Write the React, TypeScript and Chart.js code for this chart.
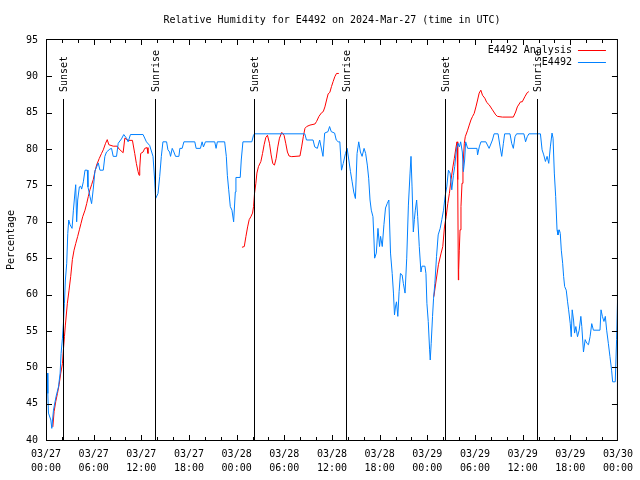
import React, { useEffect, useRef } from "react";
import { Chart, registerables } from "chart.js";

Chart.register(...registerables);

const FONT = "'DejaVu Sans Mono', 'Liberation Mono', monospace";

const chartTitle = "Relative Humidity for E4492 on 2024-Mar-27 (time in UTC)";
const yAxisTitle = "Percentage";
const dayLabels = ["03/27", "03/28", "03/29", "03/30"];
const timeLabels = ["00:00", "06:00", "12:00", "18:00"];
const yMin = 40;
const yMax = 95;
const yStep = 5;
const xMin = 0;
const xMax = 72;
const xMajorStep = 6;
const xMinorStep = 2;

const sunHours = [2.1, 13.72, 26.2, 37.82, 50.22, 61.75];
const sunLabels = ["Sunset", "Sunrise", "Sunset", "Sunrise", "Sunset", "Sunrise"];
const sunLineTop = 86.85;

const analysisLabel = "E4492 Analysis";
const analysisHours = [
  0.86, 1.02, 1.23, 1.44, 1.65, 1.86, 2.07, 2.19, 2.32, 2.44, 2.69, 2.9, 3.11, 3.32, 3.53, 3.74, 3.99, 4.2, 4.41, 4.62,
  4.91, 5.12, 5.33, 5.53, 5.74, 5.95, 6.16, 6.37, 6.7, 6.99, 7.21, 7.5, 7.71, 7.91, 8.46, 8.96, 9.21, 9.71, 9.92, 10.34,
  10.88, 11.17, 11.38, 11.59, 11.72, 11.8, 11.92, 12.22, 12.43, 12.72, 12.84,
  18,
  24.67, 24.96, 25.17, 25.38, 25.58, 25.79, 26.0, 26.13, 26.25, 26.42, 26.55, 26.75, 27.05, 27.26, 27.46, 27.67, 27.88,
  28.13, 28.34, 28.55, 28.76, 28.97, 29.18, 29.39, 29.68, 29.97, 30.18, 30.39, 30.6, 30.93, 31.97, 32.18, 32.39, 32.6,
  32.81, 33.23, 33.85, 34.06, 34.36, 34.69, 34.9, 35.11, 35.32, 35.52, 35.73, 35.94, 36.15, 36.36, 36.57, 36.86,
  42,
  48.82, 49.12, 49.4, 49.74, 49.95, 50.16, 50.37, 50.58, 50.78, 50.99, 51.2, 51.4, 51.62, 51.74, 51.83, 51.91, 51.95,
  52.03, 52.12, 52.24, 52.37, 52.49, 52.66, 52.78, 53.08, 53.28, 53.49, 53.7, 53.9, 54.12, 54.33, 54.53, 54.74, 54.95,
  55.24, 55.49, 55.78, 56.2, 56.62, 56.83, 57.45, 58.83, 59.12, 59.33, 59.74, 59.95, 60.28, 60.58, 60.78,
];
const analysisValues = [
  41.8, 43.9, 45.3, 46.4, 47.6, 49.2, 50.5, 52.4, 54.2, 55.8, 58.8, 60.6, 62.5, 64.8, 66.1, 67, 68, 68.9, 69.8, 70.7,
  71.6, 72.5, 73.5, 74.4, 75.1, 75.8, 76.9, 77.8, 78.7, 79.4, 79.9, 80.8, 81.3, 80.6, 80.4, 80.4, 80, 79.5, 81.5, 81.2,
  81.2, 79.4, 78.0, 76.9, 76.4, 77.4, 79.4, 79.6, 80.1, 80.2, 79.4,
  null,
  66.5, 66.6, 68, 69.3, 70.3, 70.7, 71.2, 72.1, 73.9, 75.3, 76.7, 77.6, 78.3, 79.4, 80.6, 81.6, 81.9,
  80.8, 79.2, 78.0, 77.8, 78.7, 80.3, 81.5, 82.3, 81.9, 80.8, 79.6, 79.05, 78.96, 79.05, 80.3, 81.7, 82.85,
  83.1, 83.3, 83.45, 83.8, 84.5, 85, 85.15, 85.8, 86.75, 87.6, 87.8, 88.6, 89.3, 89.96, 90.4, 90.4,
  null,
  59.7, 62, 64.1, 65.7, 66.6, 69.3, 70.7, 72.5, 73.9, 75.8, 77.4, 78.7, 80.3, 81, 75.8, 62, 63.4,
  66.1, 68.9, 72.1, 75.3, 77.6, 80.8, 81.7, 82.6, 83.3, 84, 84.5, 84.9, 85.8, 86.75, 87.7, 88.1, 87.4,
  87, 86.4, 86.1, 85.4, 84.7, 84.5, 84.4, 84.4, 85.1, 85.8, 86.5, 86.5, 87.2, 87.76, 87.9,
];

const stationLabel = "E4492";
const stationHours = [
  0.19, 0.23, 0.31, 0.61, 0.73, 0.94, 1.27, 1.57, 1.78, 1.9, 2.07, 2.19, 2.32, 2.44, 2.61, 2.74, 2.86, 3.03, 3.28, 3.45,
  3.65, 3.74, 3.86, 3.99, 4.2, 4.37, 4.49, 4.7, 4.91, 5.2, 5.28, 5.53, 5.74, 5.95, 6.16, 6.58, 6.79, 7.21, 7.41, 7.62,
  8.04, 8.25, 8.46, 8.88, 9.09, 9.5, 9.79, 10.13, 10.34, 10.63, 12.22, 12.64, 13.05, 13.47, 13.68, 13.8, 14.1, 14.31,
  14.52, 14.72, 15.18, 15.35, 15.56, 15.68, 15.89, 16.1, 16.31, 16.73, 16.85, 17.14, 17.36, 18.73, 18.9, 19.44, 19.65,
  19.82, 20.07, 21.24, 21.41, 21.57, 22.49, 22.7, 22.83, 23.0, 23.2, 23.41, 23.62, 23.83, 23.91, 24.45, 24.58, 24.79,
  25.91, 26.12, 26.25, 32.58, 32.79, 33.62, 33.83, 34.16, 34.45, 34.87, 35.08, 35.5, 35.7, 35.91, 36.33, 36.54, 36.79,
  36.99, 37.2, 37.41, 37.7, 37.91, 38.12, 38.33, 38.54, 38.74, 38.95, 39.16, 39.37, 39.58, 39.79, 40.04, 40.24, 40.45,
  40.62, 40.79, 40.95, 41.16, 41.29, 41.37, 41.58, 41.79, 41.99, 42.12, 42.33, 42.54, 42.74, 42.95, 43.16, 43.37, 43.58,
  43.74, 43.87, 43.99, 44.12, 44.29, 44.45, 44.62, 44.83, 44.99, 45.2, 45.41, 45.62, 45.83, 45.95, 46.08, 46.24, 46.37,
  46.49, 46.66, 46.79, 46.99, 47.2, 47.33, 47.7, 47.83, 47.95, 48.12, 48.29, 48.37, 48.49, 48.66, 48.79, 48.95, 49.16,
  49.37, 49.62, 49.83, 50.04, 50.24, 50.45, 50.66, 50.87, 51.08, 51.29, 51.45, 51.66, 51.87, 52.04, 52.2, 52.41, 52.54,
  52.7, 52.83, 53.08, 54.25, 54.33, 54.54, 54.75, 55.37, 55.78, 56.2, 56.41, 56.91, 57.16, 57.37, 57.58, 57.74, 58.41,
  58.62, 58.83, 59.04, 59.24, 60.16, 60.37, 60.58, 60.79, 62.24, 62.45, 62.66, 62.87, 63.08, 63.29, 63.49, 63.7, 63.83,
  63.99, 64.16, 64.33, 64.45, 64.62, 64.74, 64.87, 65.04, 65.16, 65.29, 65.49, 65.66, 65.79, 65.99, 66.12, 66.24, 66.41,
  66.54, 66.7, 66.91, 67.12, 67.33, 67.45, 67.66, 67.87, 68.08, 68.29, 68.49, 68.7, 68.91, 69.74, 69.87, 70.04, 70.24,
  70.41, 70.58, 70.79, 70.99, 71.2, 71.33, 71.66, 71.83, 71.95,
];
const stationValues = [
  49.2, 46.4, 43.7, 42.75, 41.6, 44.1, 46, 47.3, 49.2, 51.9, 54, 56, 58.8, 62, 64.3, 68.4, 70.25, 69.6, 69.1, 71.6,
  74.1, 75.1, 70, 73, 74.8, 74.9, 74.5, 75.5, 77.1, 77.1, 74.8, 73.5, 72.5, 74.5, 77, 78.1, 77.1, 77.1, 79, 79.6,
  80, 80.1, 79, 79, 80.8, 81.4, 82, 81.5, 81, 82, 82, 81, 80.5, 79, 75.75, 73.2, 73.9, 76.2,
  79, 81, 81, 79.9, 79.6, 79, 80.1, 79.6, 79, 79, 80.1, 80.1, 81, 81, 80.1, 80.1, 81,
  80.3, 81, 81, 80.1, 81, 81, 79, 76.4, 74.4, 72.1, 71.6, 70, 74.1, 76.1, 76.1, 78.5, 81,
  81, 81.9, 82.1, 82.1, 81.25, 81.25, 80.3, 80.1, 81.25, 79, 82.2, 82.4, 83.1, 82.4, 82.2, 81.25, 81,
  81, 77.1, 78, 79.4, 80.1, 78.5, 76.9, 75.5, 74.1, 73.2, 79.4, 81, 79.6, 79, 80.1, 79.4, 77.8,
  76, 73, 71.6, 70.7, 67.5, 65, 65.7, 69.1, 66.6, 68, 66.6, 69.6, 71.9, 72.5, 73, 65.7, 62.9,
  60.2, 57.2, 58.3, 59, 57, 60.4, 62.9, 62.7, 61.5, 60.2, 65, 72.3, 76.7, 79, 74.8, 68.6, 70.3,
  71.6, 73, 70.7, 66.6, 63.1, 63.9, 63.9, 62.9, 58.8, 56.3, 52.4, 51, 53.3, 57, 59.5, 61.5, 65.2,
  68.2, 69.1, 70.3, 71.6, 73.5, 74.8, 77.1, 76.7, 74.4, 76.4, 77.6, 79.9, 80.8, 80.3, 81, 79.6, 76.9,
  78.5, 81, 80.1, 80.1, 79.2, 80.3, 81, 81, 80.1, 81.25, 82.1, 82.1, 80.3, 79, 80.8, 82.1, 82.1,
  80.8, 80.1, 81.7, 82.1, 82.1, 81, 81.7, 82.1, 82.1, 79.9, 79.2, 78.3, 79, 78.04, 80.3, 82.2, 81.5,
  76.7, 73.5, 68.9, 68.2, 68.9, 68.4, 66.1, 64.3, 62.5, 61.1, 60.6, 59, 57.9, 56.04, 54.2, 57.9, 56.5,
  54.7, 55.6, 54.2, 55.1, 57, 55.6, 52.1, 53.8, 53.3, 53.1, 54.2, 56, 55.1, 55.1, 57.9, 57, 56.3,
  57, 55.1, 53.3, 51.5, 49.6, 48, 48, 53.8, 59.25,
];

const analysisColor = "#ff0000";
const stationColor = "#0080ff";

const gnuplotDecor = {
  id: "gnuplotDecor",
  afterDatasetsDraw(chart: any) {
    const { ctx, chartArea: a, scales } = chart;
    const xs = scales.x;
    const ys = scales.y;
    ctx.save();
    ctx.strokeStyle = "#000";
    ctx.lineWidth = 1;
    ctx.font = `10px ${FONT}`;
    ctx.fillStyle = "#000";

    // title centred over the plot area
    ctx.textAlign = "center";
    ctx.textBaseline = "middle";
    ctx.fillText(chartTitle, (a.left + a.right) / 2, 20);

    // sunrise / sunset markers
    const topPx = Math.round(ys.getPixelForValue(sunLineTop));
    sunHours.forEach((h, i) => {
      const px = Math.round(xs.getPixelForValue(h)) + 0.5;
      ctx.beginPath();
      ctx.moveTo(px, topPx);
      ctx.lineTo(px, a.bottom);
      ctx.stroke();
      ctx.save();
      ctx.translate(px + 1, topPx - 7);
      ctx.rotate(-Math.PI / 2);
      ctx.textAlign = "left";
      ctx.textBaseline = "middle";
      ctx.fillText(sunLabels[i], 0, 0);
      ctx.restore();
    });

    // frame
    ctx.strokeRect(a.left + 0.5, a.top - 0.5, a.right - a.left - 1, a.bottom - a.top + 1);

    // y ticks (inward, mirrored)
    ctx.beginPath();
    for (let v = yMin + yStep; v < yMax; v += yStep) {
      const py = Math.round(ys.getPixelForValue(v)) + 0.5;
      ctx.moveTo(a.left, py);
      ctx.lineTo(a.left + 6, py);
      ctx.moveTo(a.right - 6, py);
      ctx.lineTo(a.right, py);
    }
    // x ticks (inward, mirrored)
    for (let h = xMin + xMinorStep; h < xMax; h += xMinorStep) {
      const px = Math.round(xs.getPixelForValue(h)) + 0.5;
      const len = h % xMajorStep === 0 ? 5 : 3;
      ctx.moveTo(px, a.bottom);
      ctx.lineTo(px, a.bottom - len);
      ctx.moveTo(px, a.top);
      ctx.lineTo(px, a.top + len);
    }
    ctx.stroke();

    // key (gnuplot style: text then sample line, top right)
    chart.data.datasets.forEach((ds: any, i: number) => {
      const y = a.top + 10.5 + i * 12;
      ctx.textAlign = "right";
      ctx.textBaseline = "middle";
      ctx.fillStyle = "#000";
      ctx.fillText(ds.label, a.right - 46, y);
      ctx.strokeStyle = ds.borderColor;
      ctx.beginPath();
      ctx.moveTo(a.right - 40, y);
      ctx.lineTo(a.right - 12, y);
      ctx.stroke();
    });
    ctx.restore();
  },
};

export default function App() {
  const canvasRef = useRef<HTMLCanvasElement | null>(null);

  useEffect(() => {
    document.body.style.margin = "0";
    const canvas = canvasRef.current;
    if (!canvas) return;

    const analysisData = analysisHours.map((h, i) => ({ x: h, y: analysisValues[i] }));
    const stationData = stationHours.map((h, i) => ({ x: h, y: stationValues[i] }));

    const chart = new Chart(canvas, {
      type: "line",
      data: {
        datasets: [
          {
            label: analysisLabel,
            data: analysisData,
            borderColor: analysisColor,
            backgroundColor: analysisColor,
            borderWidth: 1,
            pointRadius: 0,
            tension: 0,
            spanGaps: false,
            order: 1,
          },
          {
            label: stationLabel,
            data: stationData,
            borderColor: stationColor,
            backgroundColor: stationColor,
            borderWidth: 1,
            pointRadius: 0,
            tension: 0,
            order: 0,
          },
        ],
      },
      options: {
        responsive: false,
        animation: false,
        devicePixelRatio: 1,
        layout: { padding: { left: 0, right: 19, top: 40, bottom: 0 } },
        plugins: {
          legend: { display: false },
          tooltip: { enabled: false },
          title: { display: false },
        },
        scales: {
          x: {
            type: "linear",
            min: xMin,
            max: xMax,
            grid: { display: false, drawTicks: false },
            border: { display: false },
            afterFit: (scale: any) => {
              scale.height = 40;
            },
            ticks: {
              stepSize: xMajorStep,
              autoSkip: false,
              maxRotation: 0,
              minRotation: 0,
              padding: 7,
              color: "#000",
              font: { family: FONT, size: 10, lineHeight: 1.4 },
              callback: (value: any) => {
                const v = Number(value);
                return [dayLabels[Math.floor(v / 24)], timeLabels[(v % 24) / xMajorStep]];
              },
            },
          },
          y: {
            min: yMin,
            max: yMax,
            grid: { display: false, drawTicks: false },
            border: { display: false },
            afterFit: (scale: any) => {
              scale.width = 46;
            },
            title: {
              display: true,
              text: yAxisTitle,
              color: "#000",
              font: { family: FONT, size: 10 },
              padding: { top: 5, bottom: 0 },
            },
            ticks: {
              stepSize: yStep,
              padding: 8,
              color: "#000",
              font: { family: FONT, size: 10 },
            },
          },
        },
      },
      plugins: [gnuplotDecor],
    });

    return () => chart.destroy();
  }, []);

  return (
    <div style={{ position: "absolute", left: 0, top: 0, width: 640, height: 480, background: "#fff" }}>
      <canvas ref={canvasRef} width={640} height={480} style={{ display: "block" }} />
    </div>
  );
}
